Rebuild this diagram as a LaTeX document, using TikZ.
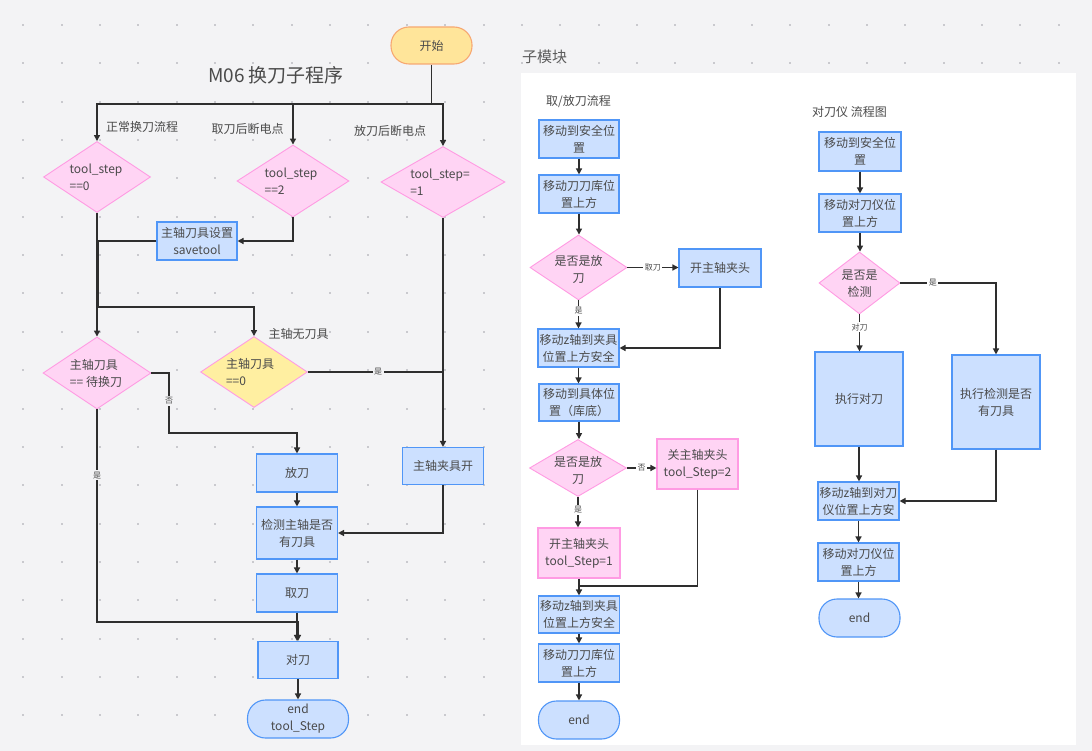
\documentclass[tikz,border=0pt]{standalone}
\usepackage{fontspec}
\setmainfont{Noto Sans CJK SC}
\usetikzlibrary{shapes.geometric,arrows.meta}
\definecolor{bg}{HTML}{F3F3F5}
\definecolor{dotc}{HTML}{C9C9CE}
\definecolor{txt}{HTML}{4A4A4A}
\definecolor{ln}{HTML}{2E2E2E}
\definecolor{bluef}{HTML}{CCE0FF}
\definecolor{blued}{HTML}{5096F7}
\definecolor{pinkf}{HTML}{FFD4F4}
\definecolor{pinkd}{HTML}{FF9BE3}
\definecolor{yelf}{HTML}{FFEFA1}
\definecolor{startf}{HTML}{FFE59A}
\definecolor{startd}{HTML}{F7A872}
\tikzset{
  base/.style={font=\fontsize{12}{17}\selectfont, text=txt, align=center, inner sep=0pt},
  box/.style={base, rectangle, draw=blued, fill=bluef, line width=1.1pt, minimum width=#1},
  box/.default=80pt,
  pbox/.style={base, rectangle, draw=pinkd, fill=pinkf, line width=1.1pt, minimum width=81pt, minimum height=50pt},
  term/.style={base, rectangle, draw=blued, fill=bluef, line width=1.1pt, rounded corners=18pt, minimum height=38pt},
  dia/.style={diamond, draw=pinkd, fill=pinkf, line width=0.9pt, inner sep=0pt, shape aspect=1.5},
  ydia/.style={dia, fill=yelf},
  dtxt/.style={base, align=left},
  ctxt/.style={base, align=center},
  ttl/.style={font=\fontsize{12}{15}\selectfont, text=txt, inner sep=0pt},
  line/.style={draw=ln, line width=1.4pt},
  arr/.style={line, -{Triangle[length=6pt,width=6pt]}},
  lab/.style={font=\fontsize{8}{9}\selectfont, text=txt, fill=bg, inner sep=1.5pt},
  wlab/.style={lab, fill=white},
}
\begin{document}
\begin{tikzpicture}[x=1pt,y=-1pt]
\fill[bg] (0,0) rectangle (1092,751);
\useasboundingbox (0,0) rectangle (1092,751);
\foreach \i in {0,...,28}{\foreach \j in {0,...,19}{
  \fill[dotc] ({23.3+38.35*\i-1},{25+38.35*\j-1}) rectangle ++(2,2);}}
% panel
\fill[white] (521,73) rectangle (1076,745);
\node[font=\fontsize{15}{18}\selectfont, text=txt!90, anchor=west, inner sep=0pt] (sub) at (522,57) {子模块};

% ===== left diagram =====
\node[font=\fontsize{19}{22}\selectfont, text=txt, inner sep=0pt] (title) at (276,75) {M06 换刀子程序};
\node[base, rectangle, draw=startd, fill=startf, line width=1.1pt, rounded corners=18pt, minimum width=81pt, minimum height=37pt] (start) at (431.5,45.5) {开始};
\node[ttl, anchor=west] (l1) at (106,127) {正常换刀流程};
\node[ttl] (l2) at (247.5,129) {取刀后断电点};
\node[ttl] (l3) at (390,131) {放刀后断电点};
\node[dia, minimum width=107pt, minimum height=71pt] (d1) at (97,177) {};
\node[dtxt] (d1t) at (96,177.5) {tool\_step\\==0};
\node[dia, minimum width=112pt, minimum height=72pt] (d2) at (293,181) {};
\node[dtxt] (d2t) at (291,181.5) {tool\_step\\==2};
\node[dia, minimum width=124pt, minimum height=71pt] (d3) at (443,182) {};
\node[dtxt] (d3t) at (440,182.5) {tool\_step=\\=1};
\node[box, minimum height=38pt] (save) at (197,241) {主轴刀具设置\\savetool};
\node[ttl] (l4) at (298.5,334) {主轴无刀具};
\node[dia, minimum width=108pt, minimum height=72pt] (d4) at (97,373) {};
\node[dtxt] (d4t) at (96,373.5) {主轴刀具\\== 待换刀};
\node[ydia, minimum width=107pt, minimum height=71pt] (d5) at (254,372) {};
\node[dtxt] (d5t) at (250,372.5) {主轴刀具\\==0};
\node[box=81pt, minimum height=38pt] (fang) at (297,473) {放刀};
\node[box=81pt, minimum height=52pt] (jian) at (297,533) {检测主轴是否\\有刀具};
\node[box=81pt, minimum height=38pt] (qu) at (297,593) {取刀};
\node[box=80pt, minimum height=37pt] (dui) at (298,660) {对刀};
\node[term, minimum width=101pt] (endL) at (298,719) {end\\tool\_Step};
\node[box=81pt, minimum height=37pt] (kai) at (443,466) {主轴夹具开};

\coordinate (top) at (431.5,104);
\coordinate (j1) at (97,307);
\coordinate (c1) at (169,433);
\coordinate (c2) at (97,622);
\draw[line] (start.south) -- (top);
\draw[arr] (top) -| (d1.north);
\draw[arr] (top) -| (d2.north);
\draw[arr] (top) -| (d3.north);
\draw[arr] (d2.south) |- (save.east);
\draw[line] (d1.south) -- (j1);
\draw[line] (save.west) -| ([xshift=1pt]j1);
\draw[arr] (j1) -- (d4.north);
\draw[arr] (j1) -| (d5.north);
\draw[line] (d5.east) -- node[lab, pos=0.52]{是} (d5.east -| d3.south);
\draw[arr] (d3.south) -- (kai.north);
\draw[arr] (d4.east) -| node[lab, pos=0.73]{否} (c1) -| (fang.north);
\draw[arr] (d4.south) -- node[lab, pos=0.31]{是} (c2) -| (dui.north);
\draw[arr] (fang.south) -- (jian.north);
\draw[arr] (jian.south) -- (qu.north);
\draw[arr] (qu.south) -- (qu.south |- dui.north);
\draw[arr] (dui.south) -- (endL.north);
\draw[arr] (kai.south) |- (jian.east);

% ===== middle diagram =====
\node[ttl] (mt) at (578.5,102) {取/放刀流程};
\node[box, minimum height=38pt] (m1) at (579,139) {移动到安全位\\置};
\node[box, minimum height=38pt] (m2) at (579,194) {移动刀刀库位\\置上方};
\node[dia, minimum width=97pt, minimum height=65pt] (m3) at (578.5,267.5) {};
\node[ctxt] (m3t) at (578.5,269) {是否是放\\刀};
\node[box=82pt, minimum height=38pt] (m4) at (720,268) {开主轴夹头};
\node[box=81pt, minimum height=38pt] (m5) at (578.5,348) {移动z轴到夹具\\位置上方安全};
\node[box, minimum height=37pt] (m6) at (579,402.5) {移动到具体位\\置（库底）};
\node[dia, minimum width=97pt, minimum height=57pt] (m7) at (578,468) {};
\node[ctxt] (m7t) at (578,470) {是否是放\\刀};
\node[pbox] (m8) at (697.5,464) {关主轴夹头\\tool\_Step=2};
\node[pbox, minimum width=82pt] (m9) at (579,553) {开主轴夹头\\tool\_Step=1};
\node[box=81pt, minimum height=37pt] (m10) at (579,614.5) {移动z轴到夹具\\位置上方安全};
\node[box=81pt, minimum height=38pt] (m11) at (579,663) {移动刀刀库位\\置上方};
\node[term, minimum width=81pt] (m12) at (579,720) {end};

\coordinate (j2) at (579,586);
\draw[arr] (m1.south) -- (m2.north);
\draw[arr] (m2.south) -- (m2.south |- m3.north);
\draw[arr] (m3.east) -- node[wlab]{取刀} (m3.east -| m4.west);
\draw[arr] (m3.south) -- node[wlab, pos=0.38]{是} (m3.south |- m5.north);
\draw[arr] (m4.south) |- (m5.east);
\draw[arr] (m5.south) -- (m5.south |- m6.north);
\draw[arr] (m6.south) -- (m6.south |- m7.north);
\draw[arr] (m7.east) -- node[wlab]{否} (m7.east -| m8.west);
\draw[arr] (m7.south) -- node[wlab, pos=0.43]{是} (m7.south |- m9.north);
\draw[arr] (m9.south) -- (m10.north);
\draw[line] (m8.south) |- (j2);
\draw[arr] (m10.south) -- (m11.north);
\draw[arr] (m11.south) -- (m12.north);

% ===== right diagram =====
\node[ttl] (rt) at (849.5,112) {对刀仪 流程图};
\node[box=82pt, minimum height=39pt] (r1) at (860,151.5) {移动到安全位\\置};
\node[box=82pt, minimum height=38pt] (r2) at (860,213) {移动对刀仪位\\置上方};
\node[dia, minimum width=81pt, minimum height=62pt] (r3) at (859.5,283) {};
\node[ctxt] (r3t) at (859.5,284) {是否是\\检测};
\node[box=88pt, minimum height=94pt] (r4) at (859,399) {执行对刀};
\node[box=88pt, minimum height=94pt] (r5) at (996,402) {执行检测是否\\有刀具};
\node[box=81pt, minimum height=38pt] (r6) at (858.5,501) {移动z轴到对刀\\仪位置上方安};
\node[box=81pt, minimum height=38pt] (r7) at (858.5,562) {移动对刀仪位\\置上方};
\node[term, minimum width=81pt] (r8) at (859.5,618) {end};

\draw[arr] (r1.south) -- (r1.south |- r2.north);
\draw[arr] (r2.south) -- (r2.south |- r3.north);
\draw[arr] (r3.east) -| node[wlab, pos=0.17]{是} (r5.north);
\draw[arr] (r3.south) -- node[wlab, pos=0.34]{对刀} (r3.south |- r4.north);
\draw[arr] (r4.south) -- (r4.south |- r6.north);
\draw[arr] (r5.south) |- (r6.east);
\draw[arr] (r6.south) -- (r7.north);
\draw[arr] (r7.south) -- (r7.south |- r8.north);
\end{tikzpicture}
\end{document}
